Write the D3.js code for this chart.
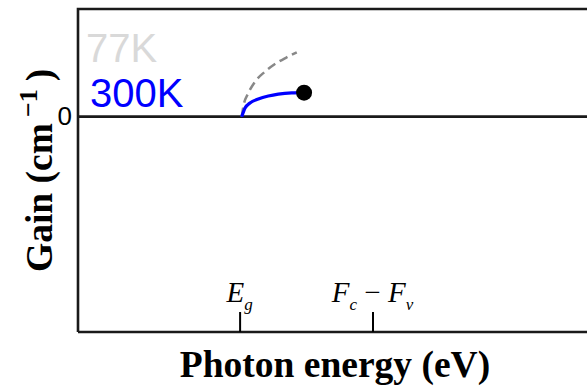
<!DOCTYPE html>
<html>
<head>
<meta charset="utf-8">
<script src="https://d3js.org/d3.v7.min.js"></script>
<style>
    body { margin: 0; background: #fff; }
    svg { display: block; }
    .frame { stroke: #1a1a1a; stroke-width: 2.6; fill: none; }
    .tag { font-family: "Liberation Sans", Arial, sans-serif; }
    .bigLabel { font-family: "Liberation Serif", "Times New Roman", serif; font-weight: bold; font-size: 37.5px; fill: #000; }
    .mathLabel { font-family: "Liberation Serif", "Times New Roman", serif; font-style: italic; font-size: 29px; fill: #000; }
</style>
</head>
<body>
<script>
    // photon energy (eV) vs gain (arb.)
    let energy300 = [1.4222, 1.4247, 1.4284, 1.4347, 1.4422, 1.4497, 1.4598, 1.4691];
    let gain300   = [0.000, 0.080, 0.127, 0.164, 0.192, 0.210, 0.221, 0.223];
    let energy77  = [1.4222, 1.4234, 1.4271, 1.4322, 1.4397, 1.4472, 1.4560, 1.4636];
    let gain77    = [0.000, 0.093, 0.217, 0.325, 0.418, 0.489, 0.551, 0.598];

    let markTicks = [1.4206, 1.5206];           // Eg, Fc - Fv
    // each piece: [text, kind] with kind "n" normal, "s" subscript, "o" operator
    let markNames = [
        [["E", "n"], ["g", "s"]],
        [["F", "n"], ["c", "s"], [" \u2212 ", "o"], ["F", "n"], ["v", "s"]]
    ];
    let yTicks = [0];
    let legendNames = ["77K", "300K"];
    let legendColors = ["#d9d9d9", "#0000ff"];

    let width = 587, height = 387;
    let margin = {top: 9, right: 0, bottom: 55, left: 78};

    let svg = d3.select("body").append("svg")
        .attr("width", width)
        .attr("height", height);

    let x = d3.scaleLinear()
        .domain([1.299, 1.682])
        .range([margin.left, width]);
    let y = d3.scaleLinear()
        .domain([-2, 1])
        .range([height - margin.bottom, margin.top]);

    let bottomY = height - margin.bottom;

    // frame: left, top
    svg.append("path")
        .attr("class", "frame")
        .attr("d", `M${width + 5},${margin.top}H${margin.left}V${bottomY}`);

    // zero line
    svg.append("line")
        .attr("class", "frame")
        .attr("x1", margin.left).attr("x2", width + 5)
        .attr("y1", y(0)).attr("y2", y(0));

    // bottom axis with inward ticks, labels above
    let xAxis = d3.axisTop(x)
        .tickValues(markTicks)
        .tickSizeInner(20)
        .tickSizeOuter(0)
        .tickFormat("");
    let gx = svg.append("g")
        .attr("transform", `translate(0,${bottomY})`)
        .call(xAxis);
    gx.select(".domain").attr("stroke", "#1a1a1a").attr("stroke-width", 2.6)
        .attr("d", `M${margin.left},0H${width + 5}`);
    gx.selectAll(".tick line").attr("stroke", "#000").attr("stroke-width", 2);

    markTicks.forEach(function(v, i){
        let t = svg.append("text")
            .attr("class", "mathLabel")
            .attr("x", x(v))
            .attr("y", bottomY - 30)
            .attr("text-anchor", "middle");
        let shift = 0;
        markNames[i].forEach(function(p){
            let target = p[1] === "s" ? 8 : 0;
            let ts = t.append("tspan").attr("dy", target - shift).text(p[0]);
            shift = target;
            if (p[1] === "s") ts.style("font-size", "17px");
            if (p[1] === "o") ts.style("font-style", "normal");
        });
    });

    // y axis: only the zero label
    let yAxis = d3.axisLeft(y)
        .tickValues(yTicks)
        .tickSize(0)
        .tickPadding(6)
        .tickFormat(d3.format("d"));
    let gy = svg.append("g")
        .attr("transform", `translate(${margin.left},0)`)
        .call(yAxis);
    gy.select(".domain").remove();
    gy.selectAll(".tick text")
        .attr("class", "tag")
        .style("font-size", "26px")
        .attr("fill", "#000");

    // curves
    let line = d3.line()
        .x(d => x(d[0]))
        .y(d => y(d[1]))
        .curve(d3.curveMonotoneX);

    let data77 = energy77.map((e, i) => [e, gain77[i]]);
    let data300 = energy300.map((e, i) => [e, gain300[i]]);

    svg.append("path")
        .datum(data77)
        .attr("d", line)
        .attr("fill", "none")
        .attr("stroke", "#888888")
        .attr("stroke-width", 2.5)
        .attr("stroke-dasharray", "9,5");

    svg.append("path")
        .datum(data300)
        .attr("d", line)
        .attr("fill", "none")
        .attr("stroke", "#0000ff")
        .attr("stroke-width", 3.2);

    let last = data300[data300.length - 1];
    svg.append("circle")
        .attr("cx", x(last[0]))
        .attr("cy", y(last[1]))
        .attr("r", 8)
        .attr("fill", "#000");

    // legend text
    svg.selectAll(".legend")
        .data(legendNames)
        .enter().append("text")
        .attr("class", "tag")
        .attr("x", (d, i) => 86 + i * 4)
        .attr("y", (d, i) => 62 + i * 45)
        .style("font-size", "40px")
        .attr("fill", (d, i) => legendColors[i])
        .text(d => d);

    // axis titles
    svg.append("text")
        .attr("class", "bigLabel")
        .attr("x", 335)
        .attr("y", 377)
        .attr("text-anchor", "middle")
        .text("Photon energy (eV)");

    let yl = svg.append("text")
        .attr("class", "bigLabel")
        .attr("transform", "translate(52,272) rotate(-90)")
        .attr("text-anchor", "start");
    yl.append("tspan").text("Gain (cm");
    yl.append("tspan").attr("dx", 6).attr("dy", "-15").style("font-size", "26px").text("\u22121");
    yl.append("tspan").attr("dx", 8).attr("dy", "15").text(")");
</script>
</body>
</html>
